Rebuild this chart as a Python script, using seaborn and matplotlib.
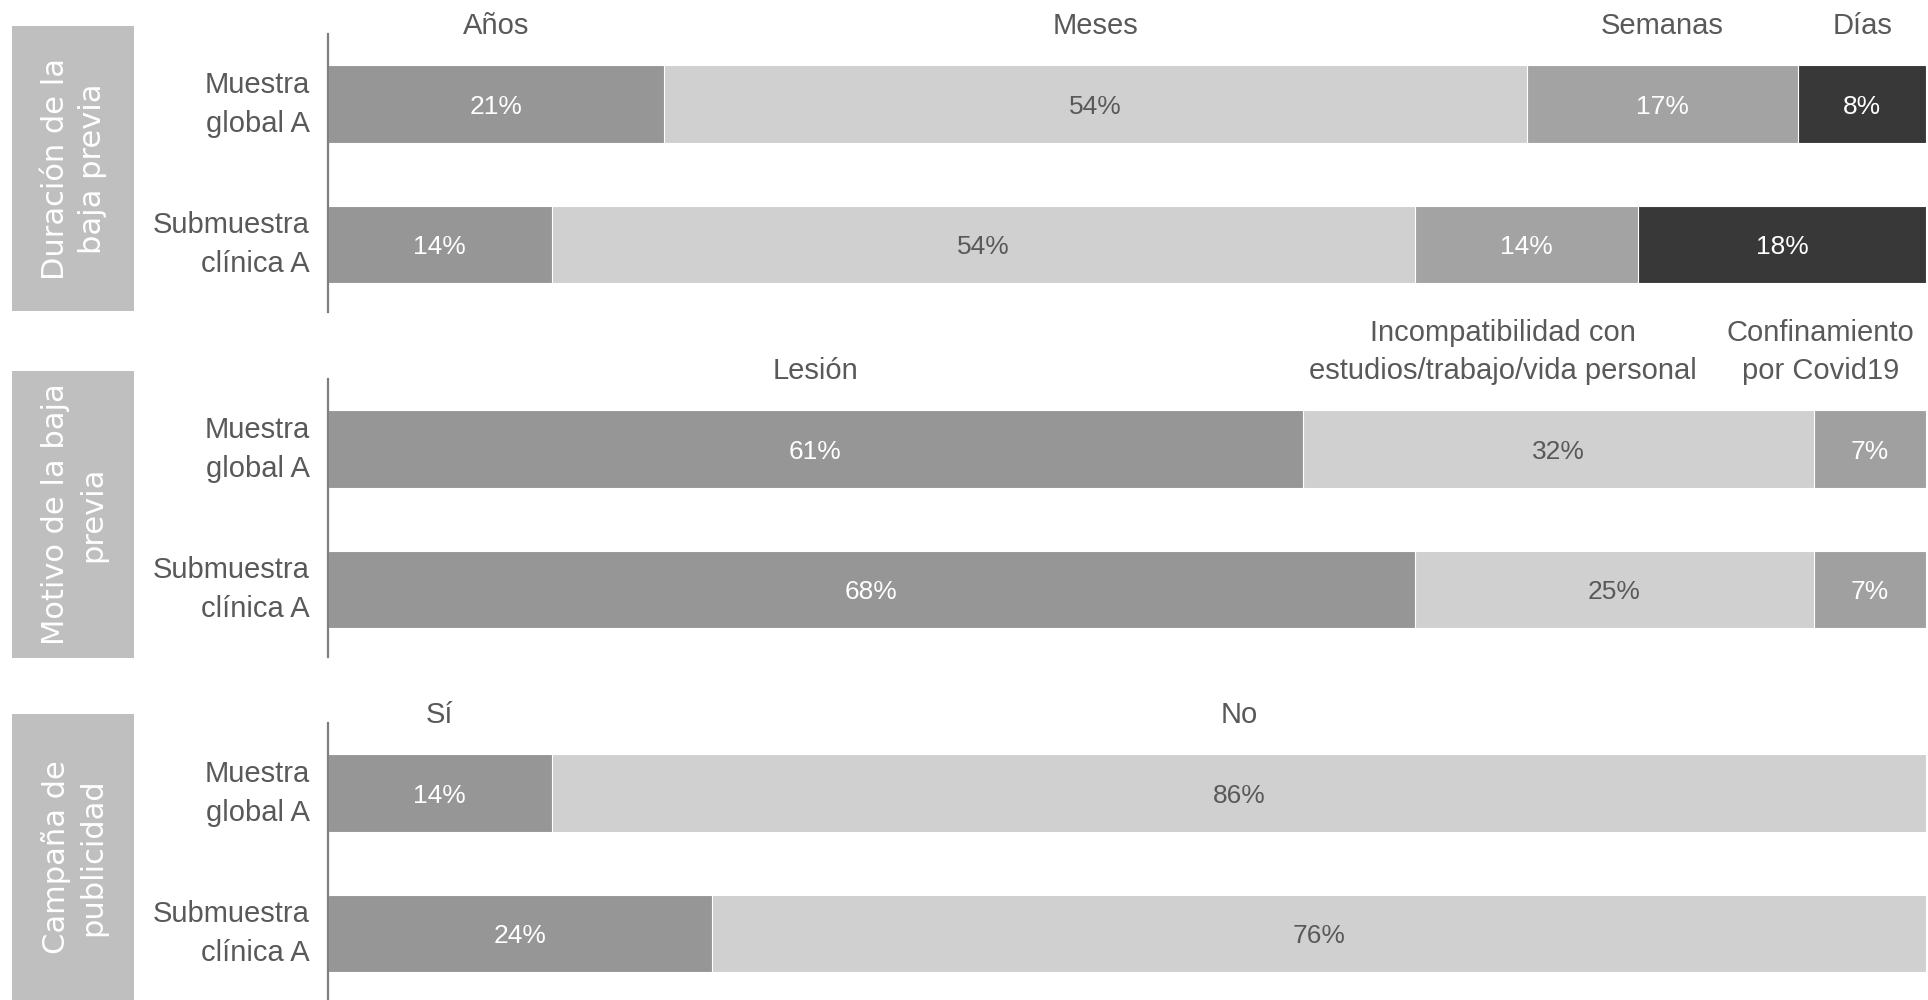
import matplotlib
matplotlib.use("Agg")
import matplotlib.pyplot as plt
from matplotlib import font_manager
from matplotlib.patches import Rectangle
import pandas as pd
import seaborn as sns

# ---- data -------------------------------------------------------------
groups = ["Muestra\nglobal A", "Submuestra\nclínica A"]

duracion_cats = ["Años", "Meses", "Semanas", "Días"]
duracion_vals = [[21, 54, 17, 8],
                 [14, 54, 14, 18]]

motivo_cats = ["Lesión", "Incompatibilidad con\nestudios/trabajo/vida personal",
               "Confinamiento\npor Covid19"]
motivo_vals = [[61, 32, 7],
               [68, 25, 7]]

campana_cats = ["Sí", "No"]
campana_vals = [[14, 86],
                [24, 76]]

panel_titles = ["Duración de la\nbaja previa", "Motivo de la baja\nprevia",
                "Campaña de\npublicidad"]

# ---- style ------------------------------------------------------------
sns.set_theme(style="white")
available = {f.name for f in font_manager.fontManager.ttflist}
narrow = "Liberation Sans Narrow" if "Liberation Sans Narrow" in available else None
plt.rcParams["font.family"] = [narrow or "Liberation Sans", "DejaVu Sans"]

TEXT = "#595959"
BOX = "#bfbfbf"
AXLINE = "#7f7f7f"
FS_LABEL = 24 if narrow else 21
FS_HEAD = 24 if narrow else 21
FS_PCT = 23 if narrow else 19

duracion_colors = ["#969696", "#d0d0d0", "#a3a3a3", "#383838"]
motivo_colors = ["#969696", "#d0d0d0", "#a0a0a0"]
campana_colors = ["#969696", "#d0d0d0"]

W, H = 1928, 1000
fig = plt.figure(figsize=(W / 100, H / 100), dpi=100)

ax_left = 328 / W
ax_width = (1926 - 328) / W
ax_h = 278 / H

panels = [
    dict(cats=duracion_cats, vals=duracion_vals, colors=duracion_colors,
         ax_top=34, box=(26, 311), header_x=None),
    dict(cats=motivo_cats, vals=motivo_vals, colors=motivo_colors,
         ax_top=379, box=(371, 658), header_x=[30.5, 73.5, 93.4]),
    dict(cats=campana_cats, vals=campana_vals, colors=campana_colors,
         ax_top=723, box=(714, 1000), header_x=None),
]


def is_light(c):
    return c.lower() == "#d0d0d0"


for p, title in zip(panels, panel_titles):
    # side box with the panel title
    y0, y1 = p["box"]
    fig.patches.append(Rectangle((12 / W, 1 - y1 / H), (134 - 12) / W, (y1 - y0) / H,
                                 transform=fig.transFigure, facecolor=BOX,
                                 edgecolor="none", zorder=0))
    fig.text(74 / W, 1 - (y0 + y1) / 2 / H, title, rotation=90, color="white",
             ha="center", va="center", fontsize=22, family="DejaVu Sans",
             linespacing=1.33, multialignment="center")

    bottom = 1 - (p["ax_top"] + 278) / H
    ax = fig.add_axes([ax_left, bottom, ax_width, ax_h])

    rows = []
    for g, row in zip(groups, p["vals"]):
        left = 0
        for cat, v in zip(p["cats"], row):
            rows.append(dict(group=g, cat=cat, value=v, left=left, right=left + v))
            left += v
    df = pd.DataFrame(rows)

    # stacked bars: draw cumulative ends from the outermost segment inwards
    for cat, col in reversed(list(zip(p["cats"], p["colors"]))):
        sub = df[df["cat"] == cat]
        sns.barplot(data=sub, x="right", y="group", order=groups, orient="h",
                    color=col, saturation=1, width=0.553, ax=ax,
                    edgecolor="white", linewidth=0.8)

    for _, r in df.iterrows():
        col = p["colors"][p["cats"].index(r["cat"])]
        yi = groups.index(r["group"])
        ax.text(r["left"] + r["value"] / 2, yi + 0.02, f"{r['value']}%",
                ha="center", va="center", fontsize=FS_PCT,
                color=TEXT if is_light(col) else "white")

    # category headers above the first row
    first = df[df["group"] == groups[0]]
    hx = p["header_x"] or list(first["left"] + first["value"] / 2)
    for cat, x in zip(p["cats"], hx):
        ax.text(x, -0.46, cat, ha="center", va="bottom", fontsize=FS_HEAD, color=TEXT,
                multialignment="center", linespacing=1.45, clip_on=False)

    ax.set_xlim(0, 100)
    ax.set_ylim(1.48, -0.5)
    ax.set_xlabel("")
    ax.set_ylabel("")
    ax.set_xticks([])
    ax.tick_params(axis="y", length=0, pad=13, labelsize=FS_LABEL, labelcolor=TEXT)
    for lab in ax.get_yticklabels():
        lab.set_ha("right")
        lab.set_va("center")
        lab.set_multialignment("right")
        lab.set_linespacing(1.5)
    for s in ["top", "right", "bottom"]:
        ax.spines[s].set_visible(False)
    ax.spines["left"].set_color(AXLINE)
    ax.spines["left"].set_linewidth(1.6)
    ax.patch.set_alpha(0)

fig.savefig("out.png", dpi=100, facecolor="white")
